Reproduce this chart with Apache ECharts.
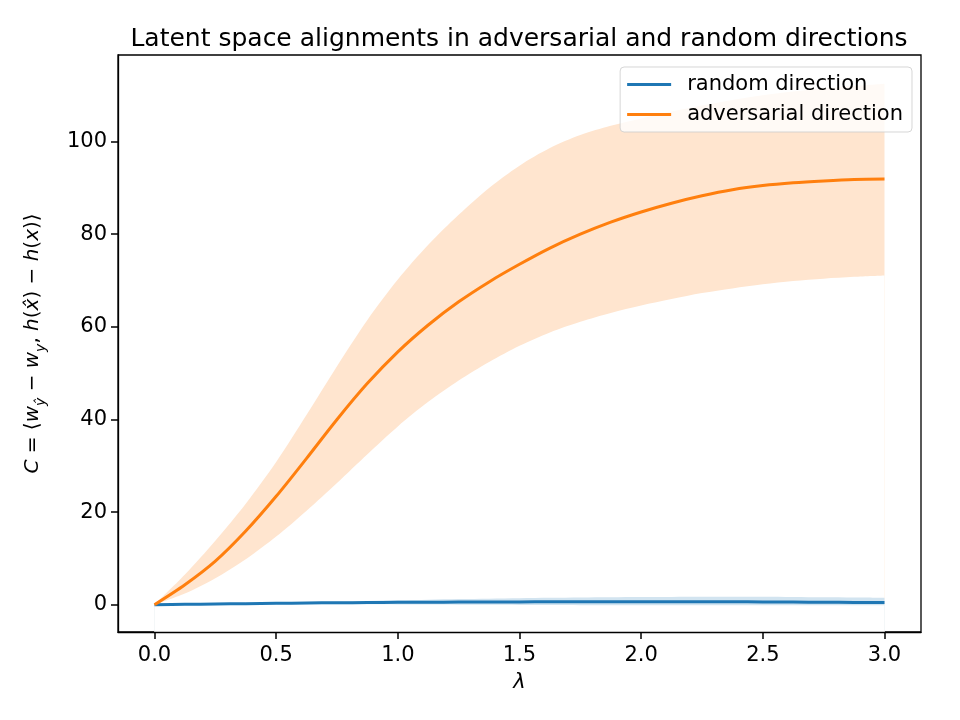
<!DOCTYPE html>
<html>
<head>
<meta charset="utf-8">
<script src="https://cdn.jsdelivr.net/npm/echarts@6/dist/echarts.min.js"></script>
<style>
  html, body { margin: 0; padding: 0; background: #fff; }
  #chart { width: 960px; height: 720px; }
</style>
</head>
<body>
<div id="chart"></div>
<script>
// lambda values (x), step 0.125
const lambdas = [0, 0.125, 0.25, 0.375, 0.5, 0.625, 0.75, 0.875, 1.0, 1.125, 1.25, 1.375, 1.5,
  1.625, 1.75, 1.875, 2.0, 2.125, 2.25, 2.375, 2.5, 2.625, 2.75, 2.875, 3.0]

// random direction: mean and band
const randomMean = [0, 0.08, 0.15, 0.22, 0.3, 0.36, 0.42, 0.46, 0.5, 0.53, 0.56, 0.58, 0.6,
  0.62, 0.63, 0.64, 0.65, 0.64, 0.63, 0.62, 0.6, 0.56, 0.52, 0.48, 0.45]
const randomUpper = [0, 0.1, 0.2, 0.32, 0.45, 0.58, 0.7, 0.82, 0.95, 1.08, 1.2, 1.3, 1.4,
  1.48, 1.55, 1.6, 1.65, 1.68, 1.7, 1.7, 1.7, 1.66, 1.6, 1.55, 1.5]
const randomLower = [0, 0.03, 0.05, 0.08, 0.1, 0.1, 0.1, 0.08, 0.05, 0.02, 0, -0.03, -0.05,
  -0.08, -0.1, -0.12, -0.15, -0.15, -0.15, -0.15, -0.15, -0.15, -0.15, -0.12, -0.1]

// adversarial direction: mean and band
const advMean = [0, 4.3, 9.4, 15.9, 23.4, 31.6, 40.0, 47.8, 54.6, 60.4, 65.4, 69.7, 73.5,
  77.0, 80.0, 82.6, 84.8, 86.7, 88.3, 89.6, 90.5, 91.1, 91.5, 91.8, 91.9]
const advUpper = [0, 6.5, 13.8, 21.8, 30.8, 41.0, 51.5, 61.5, 70.2, 77.7, 84.2, 90.0, 94.8,
  98.6, 101.4, 103.4, 105.0, 106.5, 107.8, 109.0, 110.0, 110.8, 111.5, 112.0, 112.5]
const advLower = [0, 2.4, 5.7, 9.8, 14.7, 20.3, 26.3, 32.5, 38.5, 43.8, 48.4, 52.4, 55.9,
  58.8, 61.1, 63.0, 64.6, 66.0, 67.3, 68.3, 69.2, 69.9, 70.4, 70.8, 71.1]

// tick labels
const xTicks = [0, 0.5, 1.0, 1.5, 2.0, 2.5, 3.0]
const yTicks = [0, 20, 40, 60, 80, 100]

const font = 'DejaVu Sans'
const blue = '#1f77b4'
const orange = '#ff7f0e'
const SMOOTH = 0.3

const pairs = (ys) => lambdas.map((x, i) => [x, ys[i]])

// filled band edge: area from the curve down to the axis bottom
function bandEdge(name, ys, fill, z) {
  return {
    name: name,
    type: 'line',
    data: pairs(ys),
    smooth: SMOOTH,
    symbol: 'none',
    silent: true,
    lineStyle: { width: 0, opacity: 0 },
    areaStyle: { color: fill, opacity: 1, origin: 'start' },
    z: z,
  }
}

const chart = echarts.init(document.getElementById('chart'))
const option = {
  animation: false,
  backgroundColor: '#fff',
  title: {
    text: 'Latent space alignments in adversarial and random directions',
    left: 514,
    top: 22,
    textAlign: 'center',
    textStyle: { fontFamily: font, fontSize: 25, fontWeight: 'normal', color: '#000' },
  },
  grid: {
    left: 118,
    top: 55,
    width: 803,
    height: 577,
    show: true,
    borderColor: '#000',
    borderWidth: 1.3,
    backgroundColor: 'transparent',
  },
  legend: {
    right: 48,
    top: 67,
    orient: 'vertical',
    icon: 'rect',
    itemWidth: 44,
    itemHeight: 3,
    itemGap: 7,
    padding: [6, 9, 6, 7],
    backgroundColor: 'rgba(255,255,255,0.8)',
    borderColor: 'rgba(204,204,204,0.8)',
    borderWidth: 1,
    borderRadius: 4,
    z: 20,
    textStyle: { fontFamily: font, fontSize: 21, lineHeight: 23, color: '#000', padding: [0, 0, 0, 11] },
    data: ['random direction', 'adversarial direction'],
  },
  xAxis: {
    type: 'value',
    min: -0.15,
    max: 3.15,
    z: 10,
    name: 'λ',
    nameLocation: 'middle',
    nameGap: 40,
    nameTextStyle: { fontFamily: font, fontSize: 21, fontStyle: 'italic', color: '#000' },
    axisLine: { show: true, onZero: false, lineStyle: { color: '#000', width: 1.3 } },
    axisTick: { show: true, length: 7, lineStyle: { color: '#000', width: 1.5 }, customValues: xTicks },
    axisLabel: {
      customValues: xTicks,
      formatter: (v) => v.toFixed(1),
      fontFamily: font,
      fontSize: 21,
      color: '#000',
      margin: 13,
    },
    splitLine: { show: false },
  },
  yAxis: {
    type: 'value',
    min: -5.9,
    max: 118.7,
    z: 10,
    name: '{i|C} = ⟨{i|w}{s|ŷ} − {i|w}{s|y}, {i|h}({i|x̂}) − {i|h}({i|x})⟩',
    nameLocation: 'middle',
    nameRotate: 90,
    nameGap: 70,
    nameTextStyle: {
      fontFamily: font,
      fontSize: 20,
      color: '#000',
      rich: {
        i: { fontFamily: font, fontSize: 20, fontStyle: 'italic', color: '#000' },
        s: { fontFamily: font, fontSize: 14, fontStyle: 'italic', color: '#000', verticalAlign: 'bottom', lineHeight: 30 },
      },
    },
    axisLine: { show: true, onZero: false, lineStyle: { color: '#000', width: 1.3 } },
    axisTick: { show: true, length: 7, lineStyle: { color: '#000', width: 1.5 }, customValues: yTicks },
    axisLabel: {
      customValues: yTicks,
      fontFamily: font,
      fontSize: 21,
      color: '#000',
      margin: 11,
    },
    splitLine: { show: false },
  },
  series: [
    // shaded bands: upper edge filled with the tint, lower edge masked in white
    bandEdge('advUpperEdge', advUpper, '#ffe5cf', 1),
    bandEdge('advLowerEdge', advLower, '#ffffff', 2),
    bandEdge('randomUpperEdge', randomUpper, '#d2e4f0', 3),
    bandEdge('randomLowerEdge', randomLower, '#ffffff', 4),
    {
      name: 'random direction',
      type: 'line',
      data: pairs(randomMean),
      smooth: SMOOTH,
      symbol: 'none',
      color: blue,
      lineStyle: { color: blue, width: 3 },
      z: 5,
    },
    {
      name: 'adversarial direction',
      type: 'line',
      data: pairs(advMean),
      smooth: SMOOTH,
      symbol: 'none',
      color: orange,
      lineStyle: { color: orange, width: 3 },
      z: 6,
    },
  ],
}
chart.setOption(option)
</script>
</body>
</html>
